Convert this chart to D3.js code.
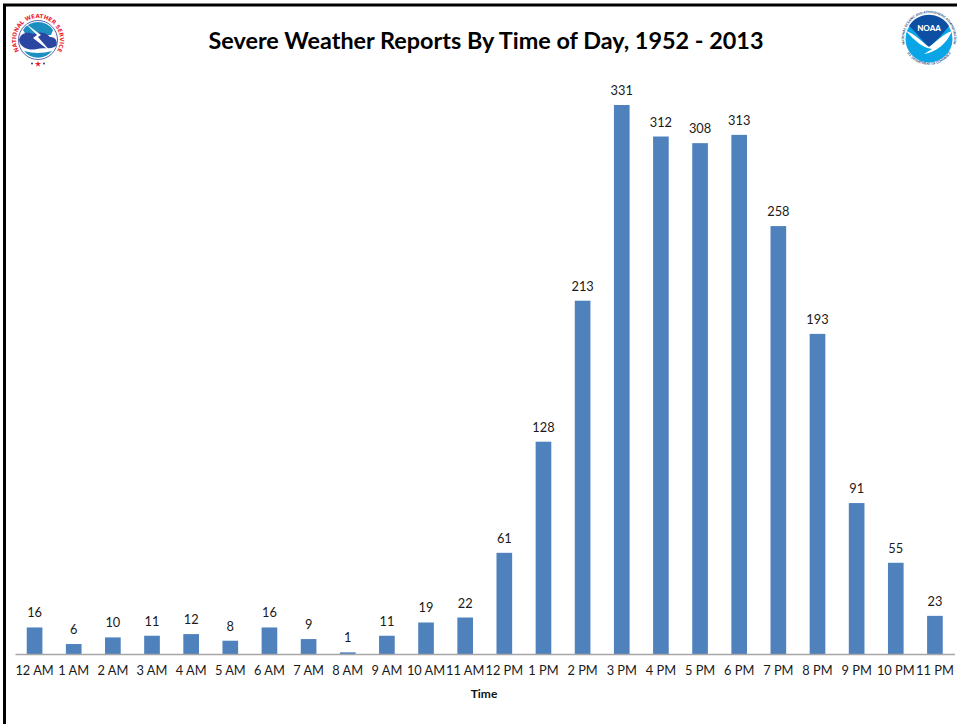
<!DOCTYPE html>
<html>
<head>
<meta charset="utf-8">
<script src="https://cdn.jsdelivr.net/npm/d3@7"></script>
<style>
  html, body { margin: 0; padding: 0; background: #fff; }
  svg { display: block; font-family: Lato, "Open Sans", sans-serif; }
</style>
</head>
<body>
<div id="chart"></div>
<script>
const hours = ["12 AM","1 AM","2 AM","3 AM","4 AM","5 AM","6 AM","7 AM","8 AM","9 AM","10 AM","11 AM",
  "12 PM","1 PM","2 PM","3 PM","4 PM","5 PM","6 PM","7 PM","8 PM","9 PM","10 PM","11 PM"]
const reports = [16,6,10,11,12,8,16,9,1,11,19,22,61,128,213,331,312,308,313,258,193,91,55,23]

const width = 957
const height = 724
const margin = { top: 105, right: 2.5, bottom: 70, left: 15 }
const baseline = height - margin.bottom

const svg = d3.select("#chart").append("svg")
    .attr("width", width)
    .attr("height", height)

// slide frame, only top and left show
svg.append("path")
    .attr("d", `M4.5 ${height} V5 H${width}`)
    .attr("fill", "none")
    .attr("stroke", "#000")
    .attr("stroke-width", 3)

// scales
const xScale = d3.scaleBand()
    .domain(hours)
    .range([margin.left, width - margin.right])
    .paddingInner(0.6)
    .paddingOuter(0.3)

const yScale = d3.scaleLinear()
    .domain([0, 331])
    .range([baseline, margin.top])

// bars
svg.append("g").selectAll("rect")
    .data(reports)
    .join("rect")
    .attr("x", (d, i) => xScale(hours[i]))
    .attr("y", d => yScale(d))
    .attr("width", xScale.bandwidth())
    .attr("height", d => baseline - yScale(d))
    .attr("fill", "#4f81bd")

// value labels
svg.append("g").selectAll("text")
    .data(reports)
    .join("text")
    .attr("x", (d, i) => xScale(hours[i]) + xScale.bandwidth() / 2)
    .attr("y", d => yScale(d) - 10)
    .attr("text-anchor", "middle")
    .attr("font-size", 12.8)
    .attr("fill", "#1a1a1a")
    .text(d => d)

// x axis
const xAxis = svg.append("g")
    .attr("transform", `translate(0,${baseline})`)
    .call(d3.axisBottom(xScale).tickSize(0).tickPadding(12))
xAxis.select(".domain").attr("stroke", "#a6a6a6").attr("stroke-width", 1.5)
xAxis.selectAll("text")
    .attr("font-family", "Lato")
    .attr("font-size", 12.8)
    .attr("fill", "#1a1a1a")

svg.append("text")
    .attr("x", 484)
    .attr("y", 698)
    .attr("text-anchor", "middle")
    .attr("font-size", 12)
    .attr("font-weight", 700)
    .attr("fill", "#111")
    .text("Time")

svg.append("text")
    .attr("x", 486)
    .attr("y", 49)
    .attr("text-anchor", "middle")
    .attr("font-size", 23.4)
    .attr("font-weight", 700)
    .attr("fill", "#000")
    .text("Severe Weather Reports By Time of Day, 1952 - 2013")

// NWS logo
const nws = svg.append("g").attr("transform", "translate(38,40)")
nws.append("path").attr("id", "nwsRing")
    .attr("d", "M-14.5 16.5 A22 22 0 1 1 14.5 16.5")
    .attr("fill", "none")
nws.append("text")
    .attr("font-family", "DejaVu Sans")
    .attr("font-size", 5.6).attr("font-weight", 700).attr("fill", "#ed1c2e")
  .append("textPath")
    .attr("href", "#nwsRing")
    .attr("startOffset", "50%")
    .attr("text-anchor", "middle")
    .attr("textLength", 92)
    .text("NATIONAL WEATHER SERVICE")
nws.append("circle").attr("r", 19.5).attr("fill", "#fff").attr("stroke", "#2b3f92").attr("stroke-width", 0.8)
nws.append("path").attr("d", "M-15 -10 A18 18 0 0 1 15 -10 L13 -5 L-12 -5 Z").attr("fill", "#1c8fc0")
nws.append("path")
    .attr("d", "M-19 0 C-18 -7 -10 -9 -5 -6 C2 -9 9 -7 12 -3 C18 -3 20 2 18 6 C12 10 5 7 -1 9 C-8 11 -18 8 -19 0 Z")
    .attr("fill", "#2b46a0")
nws.append("path").attr("d", "M-13 -17 L3 -5 L0 -3 L13 12 L-5 -2 L-1 -5 Z").attr("fill", "#fff")
nws.append("path").attr("d", "M-14 11 A18 18 0 0 0 14 11 Q0 15 -14 11 Z").attr("fill", "#1c8fc0")
nws.append("path")
    .attr("transform", "translate(0,24)")
    .attr("d", d3.symbol(d3.symbolStar, 12)())
    .attr("fill", "#ed1c2e")
nws.selectAll(".dot").data([-6, 6]).join("circle")
    .attr("cx", d => d).attr("cy", 23.5).attr("r", 1).attr("fill", "#2b3f92")

// NOAA logo
const noaa = svg.append("g").attr("transform", "translate(929,39)")
noaa.append("circle").attr("r", 23.5).attr("fill", "#0aa5e6")
noaa.append("path")
    .attr("d", "M-20 -13 A23.5 23.5 0 0 1 20 -13 C14 -6 8 2 0 8 C-6 3 -13 -7 -20 -13 Z")
    .attr("fill", "#0d4fa3")
noaa.append("path")
    .attr("d", "M-23 -8 C-14 -5 -7 3 0 8 C7 3 14 -5 23 -8 C18 4 8 13 -5 15 L3 10 C-6 9 -14 2 -23 -8 Z")
    .attr("fill", "#fff")
noaa.append("text").attr("y", -8).attr("text-anchor", "middle")
    .attr("font-size", 8).attr("font-weight", 900).attr("fill", "#fff").text("NOAA")
noaa.append("path").attr("id", "noaaTop")
    .attr("d", "M-24.5 4 A25 25 0 1 1 24.5 4")
    .attr("fill", "none")
noaa.append("path").attr("id", "noaaBottom")
    .attr("d", "M-23 12 A26 26 0 0 0 23 12")
    .attr("fill", "none")
noaa.append("text")
    .attr("font-size", 3.2).attr("font-weight", 700).attr("fill", "#1d3f7a")
  .append("textPath")
    .attr("href", "#noaaTop")
    .attr("startOffset", "50%")
    .attr("text-anchor", "middle")
    .text("NATIONAL OCEANIC AND ATMOSPHERIC ADMINISTRATION")
noaa.append("text")
    .attr("font-size", 3.2).attr("font-weight", 700).attr("fill", "#1d3f7a")
  .append("textPath")
    .attr("href", "#noaaBottom")
    .attr("startOffset", "50%")
    .attr("text-anchor", "middle")
    .text("U.S. DEPARTMENT OF COMMERCE")
</script>
</body>
</html>
